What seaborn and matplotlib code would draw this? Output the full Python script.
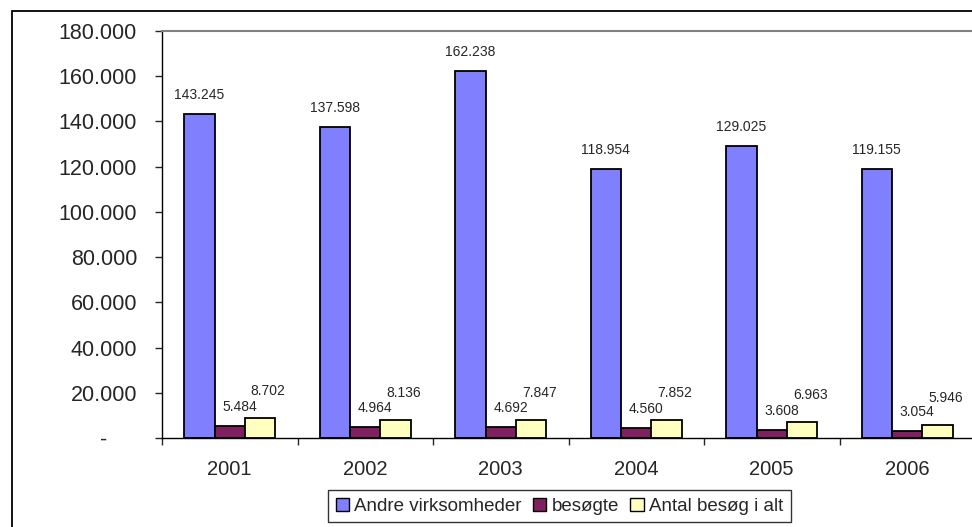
import pandas as pd
import matplotlib
matplotlib.use("Agg")
import matplotlib.pyplot as plt
from matplotlib.patches import Rectangle
from matplotlib.ticker import FixedLocator
import seaborn as sns

# data
years = ["2001", "2002", "2003", "2004", "2005", "2006"]
andre = [143245, 137598, 162238, 118954, 129025, 119155]
besogte = [5484, 4964, 4692, 4560, 3608, 3054]
antal = [8702, 8136, 7847, 7852, 6963, 5946]
series_names = ["Andre virksomheder", "besøgte", "Antal besøg i alt"]

df = pd.DataFrame({
    "year": years * 3,
    "serie": [series_names[0]] * 6 + [series_names[1]] * 6 + [series_names[2]] * 6,
    "value": andre + besogte + antal,
})

sns.set_style("white")
plt.rcParams["font.family"] = ["Liberation Sans", "DejaVu Sans"]

colors = ["#8080FF", "#802060", "#FFFFC0"]

fig = plt.figure(figsize=(9.72, 5.27), dpi=100)
ax = fig.add_axes([162 / 972, 1 - 438 / 527, (975 - 162) / 972, (438 - 31) / 527])

sns.barplot(data=df, x="year", y="value", hue="serie", palette=colors,
            width=0.675, gap=0, edgecolor="black", linewidth=1.3,
            saturation=1, ax=ax)

def dk(v):
    return f"{v:,.0f}".replace(",", ".")

# value labels
offsets = [(0, 12), (10, 12), (8, 20)]
for cont, off in zip(ax.containers, offsets):
    for bar in cont:
        h = bar.get_height()
        ax.annotate(dk(h), (bar.get_x() + bar.get_width() / 2, h),
                    xytext=off, textcoords="offset pixels",
                    ha="center", va="bottom", fontsize=10)

ax.set_ylim(0, 180000)
ax.set_xlim(-0.5, 5.5)
yt = list(range(0, 180001, 20000))
ax.set_yticks(yt)
ax.set_yticklabels(["-     "] + [dk(v) for v in yt[1:]], fontsize=15.5)
ax.tick_params(axis="y", direction="out", length=5, width=1, pad=13, left=True)
ax.tick_params(axis="x", which="major", length=0, pad=16, labelsize=14.5)
ax.xaxis.set_minor_locator(FixedLocator([i - 0.5 for i in range(7)]))
ax.tick_params(axis="x", which="minor", direction="out", length=5, width=1, bottom=True)
ax.set_xlabel("")
ax.set_ylabel("")

for s in ["left", "bottom"]:
    ax.spines[s].set_color("black")
    ax.spines[s].set_linewidth(1)
ax.spines["top"].set_color("#808080")
ax.spines["top"].set_linewidth(1.5)
ax.spines["right"].set_visible(False)

handles, labels = ax.get_legend_handles_labels()
ax.get_legend().remove()
leg = fig.legend(handles, labels, loc="upper left",
                 bbox_to_anchor=(328 / 972, 1 - 490 / 527), ncol=3,
                 fontsize=13.5, frameon=True, fancybox=False,
                 edgecolor="black", handlelength=0.7, handleheight=0.7,
                 handletextpad=0.3, columnspacing=0.6, borderpad=0.4,
                 borderaxespad=0)
leg.get_frame().set_linewidth(1)
for h in leg.legend_handles:
    h.set_edgecolor("black")
    h.set_linewidth(1)

# outer chart frame (cut off at right and bottom)
fig.patches.append(Rectangle((12 / 972, -0.2), 1.2, 1.2 - 11 / 527,
                             transform=fig.transFigure, fill=False,
                             edgecolor="black", linewidth=1.3))

fig.savefig("out.png", dpi=100)
